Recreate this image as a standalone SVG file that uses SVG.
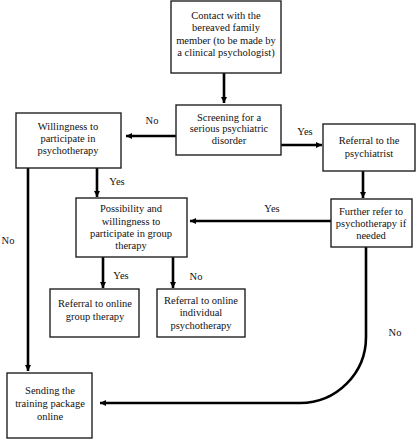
<svg xmlns="http://www.w3.org/2000/svg" width="416" height="440" viewBox="0 0 416 440">
<defs>
<marker id="ah" markerUnits="userSpaceOnUse" markerWidth="8" markerHeight="8" refX="6" refY="4" orient="auto">
<path d="M0,1 L6,4 L0,7 Z" fill="#000"/>
</marker>
<style>
.box{fill:#fff;stroke:#222;stroke-width:1.4}
text{font-family:'Liberation Serif','Times New Roman',serif;font-size:10.5px;fill:#111;text-anchor:middle}
.c{fill:none;stroke:#000;stroke-width:2.6}
</style>
</defs>
<rect width="416" height="440" fill="#fff"/>
<g id="connectors">
<line class="c" x1="224" y1="73" x2="224" y2="103" marker-end="url(#ah)"/>
<line class="c" x1="176" y1="136" x2="126" y2="136" marker-end="url(#ah)"/>
<line class="c" x1="281" y1="145" x2="322" y2="145" marker-end="url(#ah)"/>
<line class="c" x1="363" y1="171" x2="363" y2="198" marker-end="url(#ah)"/>
<line class="c" x1="97" y1="168" x2="97" y2="197" marker-end="url(#ah)"/>
<line class="c" x1="28" y1="168" x2="28" y2="371" marker-end="url(#ah)"/>
<line class="c" x1="331" y1="221" x2="190" y2="221" marker-end="url(#ah)"/>
<line class="c" x1="103" y1="257" x2="103" y2="288" marker-end="url(#ah)"/>
<line class="c" x1="173" y1="257" x2="173" y2="288" marker-end="url(#ah)"/>
<path class="c" d="M366,247 V337 A66,66 0 0 1 300,403 H100" marker-end="url(#ah)"/>
<text x="152" y="124">No</text>
<text x="305" y="135">Yes</text>
<text x="117" y="185">Yes</text>
<text x="272" y="212">Yes</text>
<text x="121" y="279">Yes</text>
<text x="196" y="280">No</text>
<text x="8" y="244">No</text>
<text x="395" y="336">No</text>
</g>
<g id="contact">
<rect class="box" x="171" y="1" width="110" height="72"/>
<text x="226" y="19">Contact with the</text>
<text x="226" y="31">bereaved family</text>
<text x="226" y="44">member (to be made by</text>
<text x="226" y="56">a clinical psychologist)</text>
</g>
<g id="screening">
<rect class="box" x="176" y="105" width="105" height="50"/>
<text x="229" y="121">Screening for a</text>
<text x="229" y="132">serious psychiatric</text>
<text x="229" y="144">disorder</text>
</g>
<g id="willingness">
<rect class="box" x="16" y="113" width="105" height="55"/>
<text x="68" y="130">Willingness to</text>
<text x="68" y="142">participate in</text>
<text x="68" y="154">psychotherapy</text>
</g>
<g id="psychiatrist">
<rect class="box" x="323" y="124" width="92" height="47"/>
<text x="369" y="144">Referral to the</text>
<text x="369" y="157">psychiatrist</text>
</g>
<g id="possibility">
<rect class="box" x="76" y="198" width="111" height="59"/>
<text x="131" y="212">Possibility and</text>
<text x="131" y="225">willingness to</text>
<text x="131" y="237">participate in group</text>
<text x="131" y="249">therapy</text>
</g>
<g id="further">
<rect class="box" x="331" y="199" width="81" height="48"/>
<text x="371" y="215">Further refer to</text>
<text x="371" y="227">psychotherapy if</text>
<text x="371" y="239">needed</text>
</g>
<g id="group">
<rect class="box" x="50" y="289" width="89" height="48"/>
<text x="95" y="307">Referral to online</text>
<text x="95" y="320">group therapy</text>
</g>
<g id="individual">
<rect class="box" x="157" y="289" width="88" height="48"/>
<text x="201" y="304">Referral to online</text>
<text x="201" y="316">individual</text>
<text x="201" y="329">psychotherapy</text>
</g>
<g id="sending">
<rect class="box" x="7" y="373" width="85" height="65"/>
<text x="50" y="394">Sending the</text>
<text x="50" y="407">training package</text>
<text x="50" y="420">online</text>
</g>
</svg>
